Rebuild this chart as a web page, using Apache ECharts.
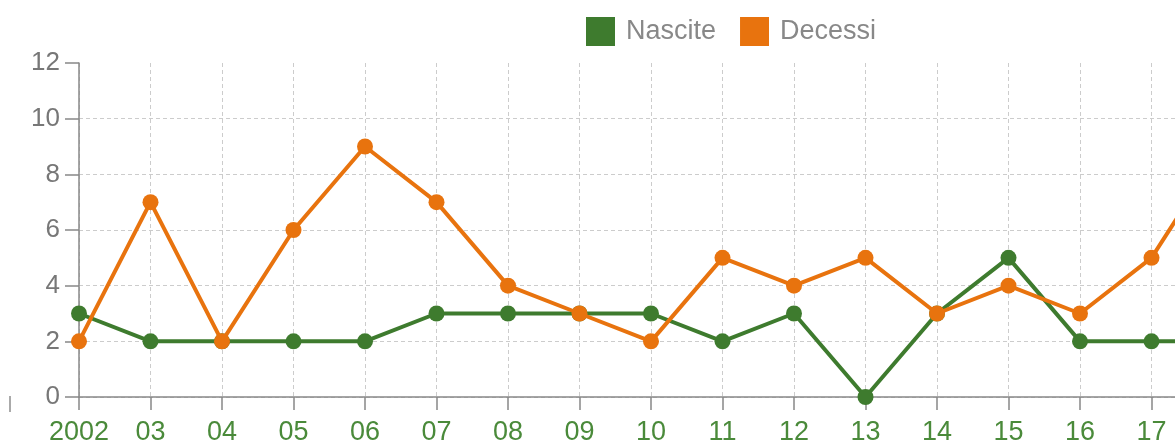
<!DOCTYPE html>
<html>
<head>
<meta charset="utf-8">
<script src="https://cdn.jsdelivr.net/npm/echarts@6/dist/echarts.min.js"></script>
<style>
  html, body { margin: 0; padding: 0; background: #fff; }
  #chart { width: 1175px; height: 448px; }
</style>
</head>
<body>
<div id="chart"></div>
<script>
// anni (il grafico originale continua oltre il bordo destro)
const anni = ["2002", "03", "04", "05", "06", "07", "08", "09", "10",
  "11", "12", "13", "14", "15", "16", "17", "18"];
const nascite = [3, 2, 2, 2, 2, 3, 3, 3, 3, 2, 3, 0, 3, 5, 2, 2, 2];
const decessi = [2, 7, 2, 6, 9, 7, 4, 3, 2, 5, 4, 5, 3, 4, 3, 5, 9];

const verde = "#3e7b2e";
const arancio = "#e8730e";

let myChart = echarts.init(document.getElementById("chart"));
let option = {
  backgroundColor: "#fff",
  animation: false,
  textStyle: { fontFamily: "Liberation Sans, Arial, sans-serif" },
  legend: {
    left: 581,
    top: 12,
    itemWidth: 29,
    itemHeight: 29,
    itemGap: 24,
    icon: "rect",
    textStyle: { color: "#888", fontSize: 27, padding: [0, 0, 0, 6] },
    data: ["Nascite", "Decessi"],
  },
  grid: {
    left: 79,
    top: 63,
    width: 1144,
    height: 334,
    containLabel: false,
    outerBoundsMode: "none",
  },
  xAxis: {
    type: "category",
    boundaryGap: false,
    data: anni,
    axisLine: { lineStyle: { color: "#888", width: 1.5 } },
    axisTick: { show: true, interval: 0, length: 13, alignWithLabel: true, lineStyle: { color: "#888", width: 1.5 } },
    axisLabel: { interval: 0, color: "#4a8a3a", fontSize: 27, margin: 22, hideOverlap: false },
    splitLine: { show: true, interval: 0, lineStyle: { color: "#ccc", type: [4, 3], width: 1 } },
  },
  yAxis: {
    type: "value",
    min: 0,
    max: 12,
    interval: 2,
    axisLine: { show: true, lineStyle: { color: "#888", width: 1.5 } },
    axisTick: { show: true, length: 14, lineStyle: { color: "#888", width: 1.5 } },
    axisLabel: { color: "#777", fontSize: 26, margin: 19 },
    splitLine: { show: true, showMaxLine: false, lineStyle: { color: "#ccc", type: [4, 3], width: 1 } },
  },
  graphic: [
    {
      type: "line",
      shape: { x1: 10, y1: 396, x2: 10, y2: 412 },
      style: { stroke: "#aaa", lineWidth: 2 },
    },
  ],
  series: [
    {
      name: "Nascite",
      type: "line",
      data: nascite,
      color: verde,
      symbol: "circle",
      symbolSize: 16,
      lineStyle: { width: 4 },
      z: 2,
    },
    {
      name: "Decessi",
      type: "line",
      data: decessi,
      color: arancio,
      symbol: "circle",
      symbolSize: 16,
      lineStyle: { width: 4 },
      z: 3,
    },
  ],
};
myChart.setOption(option);
</script>
</body>
</html>
